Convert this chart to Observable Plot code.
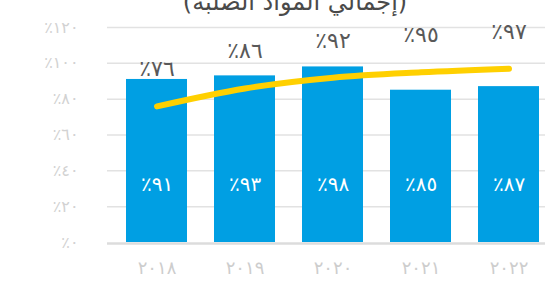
<!DOCTYPE html>
<html lang="ar">
<head>
<meta charset="utf-8">
<script src="https://cdn.jsdelivr.net/npm/d3@7"></script>
<script src="https://cdn.jsdelivr.net/npm/@observablehq/plot@0.6"></script>
<style>
  html, body { margin: 0; padding: 0; background: #fff; overflow: hidden; }
  #wrap { position: relative; width: 545px; height: 287px; font-family: "DejaVu Sans", sans-serif; }
  #title { position: absolute; top: -40px; left: 45px; width: 500px; text-align: center; direction: rtl;
           font-size: 24px; line-height: 28px; color: #4a4a4a; }
  #chart { position: absolute; top: 0; left: 0; }
</style>
</head>
<body>
<div id="wrap">
  <div id="chart"></div>
  <div id="title">معدل الاسترداد<br>(إجمالي المواد الصلبة)</div>
</div>
<script>
const years = ["٢٠١٨", "٢٠١٩", "٢٠٢٠", "٢٠٢١", "٢٠٢٢"];
const barValues = [91, 93, 98, 85, 87];
const lineValues = [76, 86, 92, 95, 97];
const yTicks = [0, 20, 40, 60, 80, 100, 120];

const arabicDigits = "٠١٢٣٤٥٦٧٨٩";
const toArabic = n => String(n).replace(/[0-9]/g, d => arabicDigits[+d]);
// logical order: number then Arabic percent sign, isolated right-to-left
const pct = n => "\u2067" + toArabic(n) + "٪" + "\u2069";

const data = years.map((year, i) => ({year, bar: barValues[i], line: lineValues[i]}));

const chart = Plot.plot({
  width: 545,
  height: 287,
  marginTop: 27,
  marginBottom: 45,
  marginLeft: 107,
  marginRight: 0,
  style: {fontFamily: "DejaVu Sans, sans-serif", background: "transparent"},
  x: {domain: years, range: [125, 540], paddingInner: 0.31, paddingOuter: 0, label: null},
  y: {domain: [0, 120], label: null},
  marks: [
    Plot.ruleY(yTicks.slice(1), {stroke: "#e2e2e2", strokeWidth: 1.5}),
    Plot.barY(data, {x: "year", y: "bar", fill: "#009FE3"}),
    Plot.ruleY([0], {stroke: "#dcdcdc", strokeWidth: 2.5, dy: 1}),
    Plot.line(data, {x: "year", y: "line", stroke: "#FFD000", strokeWidth: 6, curve: "monotone-x", strokeLinecap: "round", strokeLinejoin: "round"}),
    Plot.text(data, {x: "year", y: 0, text: d => pct(d.bar), fill: "white", fontSize: 20, dy: -58}),
    Plot.text(data, {x: "year", y: "line", text: d => pct(d.line), fill: "#595959", fontSize: 22, dy: -37}),
    Plot.axisX({tickSize: 0, tickPadding: 19, fontSize: 18, color: "#cdcdcd", label: null}),
    Plot.axisY({ticks: yTicks, tickFormat: pct, tickSize: 0, tickPadding: 29, fontSize: 16, color: "#d2d2d2", label: null})
  ]
});
document.getElementById("chart").appendChild(chart);
</script>
</body>
</html>
